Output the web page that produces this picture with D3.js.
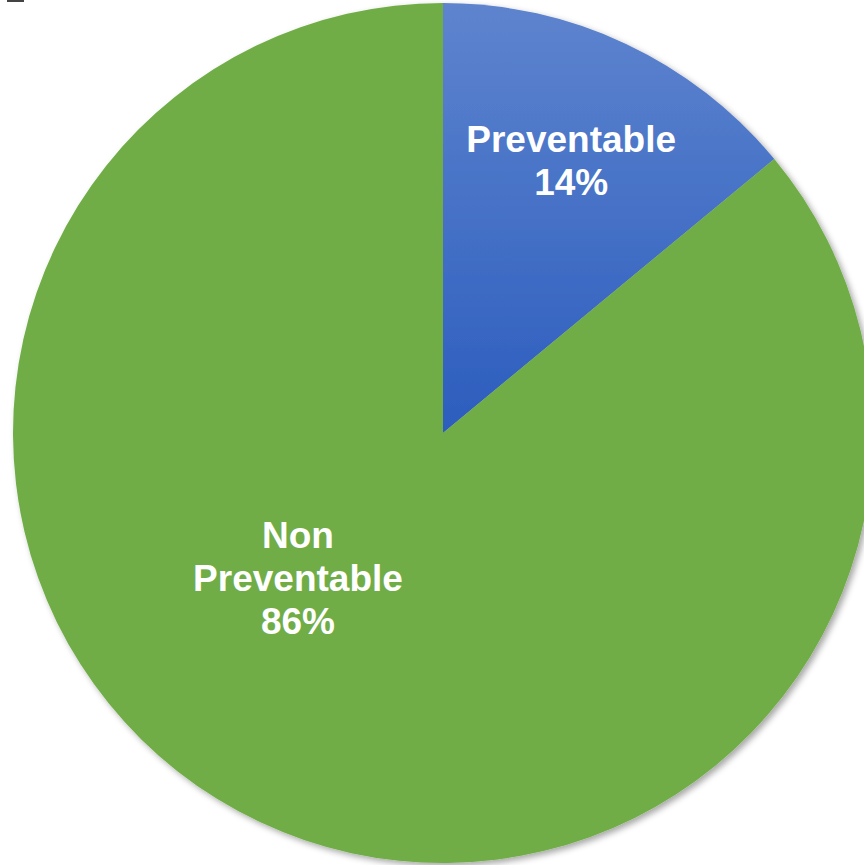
<!DOCTYPE html>
<html lang="en">
<head>
  <meta charset="utf-8">
  <title>Preventable vs Non Preventable</title>
  <script src="https://d3js.org/d3.v7.min.js"></script>
  <style>
    body { margin: 0; background: #fff; }
    .label { font: bold 37px "Liberation Sans", Arial, sans-serif; fill: #fff; }
  </style>
</head>
<body>
  <svg class="chart" width="864" height="865"></svg>
  <script>
    var categories = ["Preventable", "Non Preventable"];
    var values = [14, 86];
    var labelLines = [["Preventable", "14%"], ["Non", "Preventable", "86%"]];

    var cx = 443, cy = 433, r = 430;
    var svg = d3.select("svg");

    // tiny dark mark top-left (crop artefact in the original)
    svg.append("rect").attr("x", 7).attr("y", 0).attr("width", 17).attr("height", 2).attr("fill", "#444");

    var defs = svg.append("defs");
    // gradient is in the slice's own (translated) coordinates
    var grad = defs.append("linearGradient")
      .attr("id", "blueGrad")
      .attr("gradientUnits", "userSpaceOnUse")
      .attr("x1", 0).attr("y1", -r).attr("x2", 0).attr("y2", 0);
    grad.append("stop").attr("offset", "0%").attr("stop-color", "#5e84ce");
    grad.append("stop").attr("offset", "100%").attr("stop-color", "#2c5dbe");

    var shadow = defs.append("filter").attr("id", "shadow")
      .attr("x", "-10%").attr("y", "-10%").attr("width", "120%").attr("height", "120%");
    shadow.append("feDropShadow")
      .attr("dx", 3).attr("dy", 3).attr("stdDeviation", 3)
      .attr("flood-color", "#000").attr("flood-opacity", 0.35);

    var color = d3.scaleOrdinal().domain(categories).range(["url(#blueGrad)", "#70ad47"]);

    var pie = d3.pie().sort(null).value(function(d) { return d; });
    var arc = d3.arc().innerRadius(0).outerRadius(r);
    var arcs = pie(values);

    var g = svg.append("g").attr("transform", "translate(" + cx + "," + cy + ")");

    g.append("g").attr("filter", "url(#shadow)")
      .selectAll("path")
      .data(arcs)
      .enter()
      .append("path")
        .attr("d", arc)
        .attr("fill", function(d, i) { return color(categories[i]); });

    // label placement, roughly as in the original
    var labelArc = d3.arc().innerRadius(r * 0.70).outerRadius(r * 0.70);
    var labelPos = arcs.map(function(d, i) {
      if (i === 0) return labelArc.centroid(d);
      return [-145, 145];
    });

    var lineH = 43;
    arcs.forEach(function(d, i) {
      var lines = labelLines[i];
      var t = g.append("text")
        .attr("class", "label")
        .attr("text-anchor", "middle")
        .attr("x", labelPos[i][0])
        .attr("y", labelPos[i][1] - (lines.length - 1) * lineH / 2);
      lines.forEach(function(s, k) {
        t.append("tspan")
          .attr("x", labelPos[i][0])
          .attr("dy", k === 0 ? "0.35em" : lineH)
          .text(s);
      });
    });
  </script>
</body>
</html>
